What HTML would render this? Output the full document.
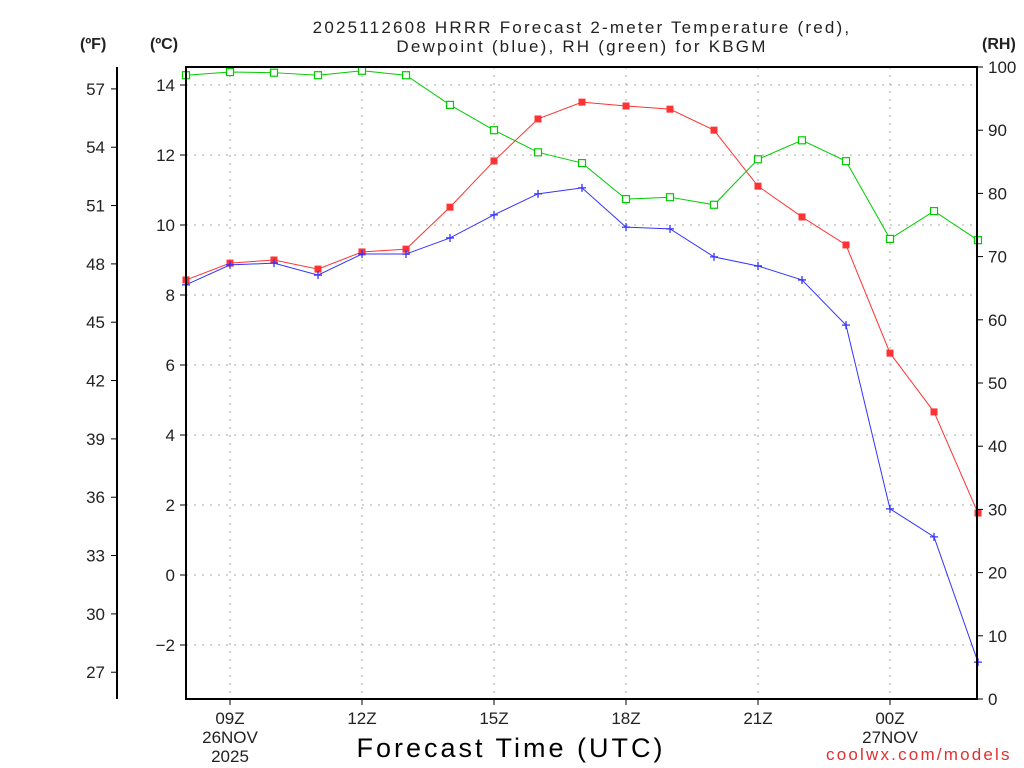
<!DOCTYPE html>
<html><head><meta charset="utf-8"><style>body{margin:0;background:#fff}svg{display:block;font-family:"Liberation Sans",sans-serif}</style></head>
<body>
<svg id="c" width="1024" height="768"></svg>
<script>
const hours=[8,9,10,11,12,13,14,15,16,17,18,19,20,21,22,23,24,25,26];
const tempC=[8.43,8.91,9.0,8.74,9.23,9.31,10.51,11.83,13.03,13.51,13.4,13.31,12.71,11.11,10.23,9.43,6.34,4.66,1.77];
const dewC=[8.29,8.86,8.91,8.57,9.17,9.17,9.63,10.29,10.89,11.06,9.94,9.89,9.09,8.83,8.43,7.14,1.89,1.09,-2.49];
const rh=[98.7,99.2,99.1,98.7,99.4,98.7,94.0,90.0,86.5,84.8,79.1,79.4,78.2,85.4,88.4,85.1,72.8,77.2,72.6];
const cTicks=[-2,0,2,4,6,8,10,12,14];
const fTicks=[27,30,33,36,39,42,45,48,51,54,57];
const rhTicks=[0,10,20,30,40,50,60,70,80,90,100];
const xTicks=[9,12,15,18,21,24];
const xLabels=[["09Z","26NOV","2025"],["12Z"],["15Z"],["18Z"],["21Z"],["00Z","27NOV"]];
const L=186,R=977,T=67,B=699;
const x=h=>L+(h-8)*44;
const yC=c=>575-35*c;
const yF=f=>yC((f-32)*5/9);
const yR=r=>B-(r/100)*(B-T);
const s=document.getElementById('c');const NS='http://www.w3.org/2000/svg';
function el(t,a,txt){const e=document.createElementNS(NS,t);for(const k in a)e.setAttribute(k,a[k]);if(txt!=null)e.textContent=txt;s.appendChild(e);return e;}
xTicks.forEach(h=>{const e=el('line',{x1:x(h),x2:x(h),y1:T,y2:B,stroke:'#aaa','stroke-dasharray':'2,6'});});
cTicks.forEach(c=>{const e=el('line',{x1:L,x2:R,y1:yC(c),y2:yC(c),stroke:'#aaa','stroke-dasharray':'2,6'});});
function series(vals,yf,col,name,mk){
 const pts=vals.map((v,i)=>x(hours[i])+','+yf(v)).join(' ');
 const p=el('polyline',{points:pts,fill:'none',stroke:col,'stroke-width':1});
 
 vals.forEach((v,i)=>{const cx=x(hours[i]),cy=yf(v);let m;
  if(mk=='fs')m=el('rect',{x:cx-3.5,y:cy-3.5,width:7,height:7,fill:col});
  else if(mk=='os')m=el('rect',{x:cx-3.5,y:cy-3.5,width:7,height:7,fill:'#fff',stroke:col,'stroke-width':1.2});
  else m=el('path',{d:`M${cx-4} ${cy}H${cx+4}M${cx} ${cy-4}V${cy+4}`,stroke:col,'stroke-width':1.3});
  });
}
series(rh,yR,'#00cc00','rh','os');
series(tempC,yC,'#ff3333','temperature','fs');
series(dewC,yC,'#3333ff','dewpoint','plus');
const fr=el('rect',{x:L,y:T,width:R-L,height:B-T,fill:'none',stroke:'#000','stroke-width':2});
const fa=el('line',{x1:117,x2:117,y1:T,y2:B,stroke:'#000','stroke-width':2});
const st={'font-size':17,fill:'#222'};
cTicks.forEach(c=>{el('line',{x1:L-6,x2:L,y1:yC(c),y2:yC(c),stroke:'#000'});const t=el('text',Object.assign({x:L-11,y:yC(c)+6,'text-anchor':'end'},st),c<0?'\u2212'+(-c):c);});
fTicks.forEach(f=>{el('line',{x1:111,x2:117,y1:yF(f),y2:yF(f),stroke:'#000'});const t=el('text',Object.assign({x:105,y:yF(f)+6,'text-anchor':'end'},st),f);});
rhTicks.forEach(r=>{el('line',{x1:R,x2:R+6,y1:yR(r),y2:yR(r),stroke:'#000'});const t=el('text',Object.assign({x:988,y:yR(r)+6},st),r);});
xTicks.forEach((h,i)=>{el('line',{x1:x(h),x2:x(h),y1:B,y2:B+6,stroke:'#000'});xLabels[i].forEach((l,j)=>{const t=el('text',Object.assign({x:x(h),y:724+j*19,'text-anchor':'middle'},st),l);});});
</script>
<div style="position:absolute;left:0;top:0;width:1024px;height:768px;pointer-events:none;font-family:'Liberation Sans',sans-serif;color:#222">
<div style="position:absolute;left:232px;width:700px;top:18px;text-align:center;font-size:17px;line-height:19px;letter-spacing:2.2px">2025112608 HRRR Forecast 2-meter Temperature (red),<br>Dewpoint (blue), RH (green) for KBGM</div>
<div style="position:absolute;left:80px;top:36px;font-size:16px;font-weight:bold">(ºF)</div>
<div style="position:absolute;left:150px;top:36px;font-size:16px;font-weight:bold">(ºC)</div>
<div style="position:absolute;left:982px;top:36px;font-size:16px;font-weight:bold">(RH)</div>
<div style="position:absolute;left:261px;width:500px;top:733px;text-align:center;font-size:27px;letter-spacing:3px;color:#000">Forecast Time (UTC)</div>
<div style="position:absolute;left:826px;top:745px;font-size:17px;color:#e03030;letter-spacing:2.2px">coolwx.com/models</div>
</div>
</body></html>
